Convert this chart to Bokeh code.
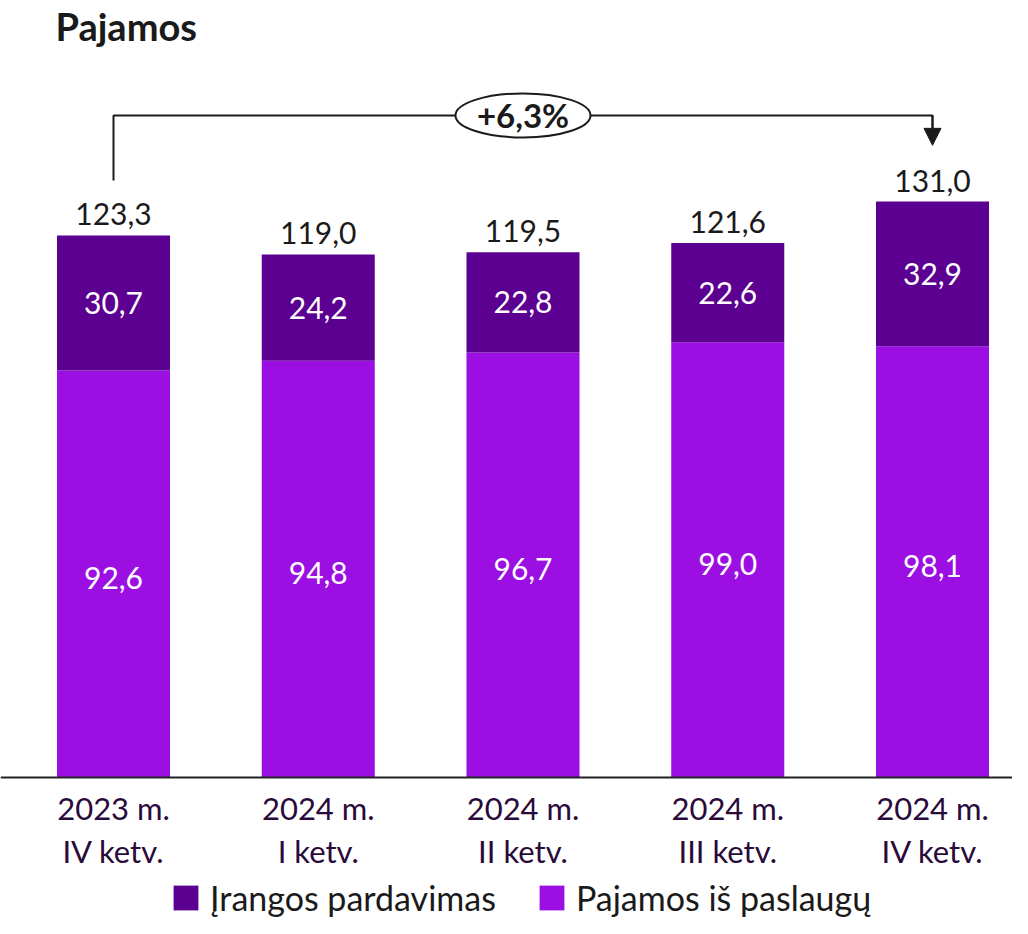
from bokeh.plotting import figure
from bokeh.models import Range1d, Span, Label, Legend, LegendItem, Arrow, NormalHead, ColumnDataSource
from bokeh.embed import file_html
from bokeh.resources import INLINE
from bokeh.core.properties import value

# ---- data ----
categories_line1 = ["2023 m.", "2024 m.", "2024 m.", "2024 m.", "2024 m."]
categories_line2 = ["IV ketv.", "I ketv.", "II ketv.", "III ketv.", "IV ketv."]
services = [92.6, 94.8, 96.7, 99.0, 98.1]        # Pajamos iš paslaugų
equipment = [30.7, 24.2, 22.8, 22.6, 32.9]       # Įrangos pardavimas
series_names = ["Įrangos pardavimas", "Pajamos iš paslaugų"]
title_text = "Pajamos"
growth_label = "+6,3%"

DARK = "#5B0091"
BRIGHT = "#9B0FE3"
FONT = "Lato"

def fmt(v):
    return f"{v:.1f}".replace(".", ",")

xs = list(range(len(services)))
totals = [round(s + e, 1) for s, e in zip(services, equipment)]

src = ColumnDataSource(dict(
    x=xs, services=services, equipment=equipment, totals=totals,
    svc_mid=[s / 2 for s in services],
    eq_mid=[s + e / 2 for s, e in zip(services, equipment)],
    svc_lbl=[fmt(v) for v in services], eq_lbl=[fmt(v) for v in equipment],
    tot_lbl=[fmt(v) for v in totals],
    l1=categories_line1, l2=categories_line2,
))

p = figure(width=1012, height=918, output_backend="svg", toolbar_location=None,
           x_range=Range1d(-0.5519, 4.3907), y_range=Range1d(-32.07, 176.75),
           min_border=0, min_border_left=0, min_border_right=0, min_border_top=0, min_border_bottom=0)
p.axis.visible = False
p.grid.visible = False
p.outline_line_color = None
p.background_fill_color = "white"

bw = 0.552
r_svc = p.vbar(x="x", bottom=0, top="services", width=bw, source=src, fill_color=BRIGHT, line_color=None)
r_eq = p.vbar(x="x", bottom="services", top="totals", width=bw, source=src, fill_color=DARK, line_color=None)

# baseline axis
p.add_layout(Span(location=0, dimension="width", line_color="#222222", line_width=2))

# labels in bars
p.text(x="x", y="svc_mid", text="svc_lbl", source=src, text_color="white", text_font=value(FONT),
       text_font_size="30px", text_align="center", text_baseline="middle", y_offset=4)
p.text(x="x", y="eq_mid", text="eq_lbl", source=src, text_color="white", text_font=value(FONT),
       text_font_size="30px", text_align="center", text_baseline="middle")
p.text(x="x", y="totals", text="tot_lbl", source=src, text_color="#1a1a1a", text_font=value(FONT),
       text_font_size="30px", text_align="center", text_baseline="bottom", y_offset=-10)

# category labels
p.text(x="x", y=0, text="l1", source=src, text_color="#2a0a3a", text_font=value(FONT),
       text_font_size="31px", text_align="center", text_baseline="middle", y_offset=30)
p.text(x="x", y=0, text="l2", source=src, text_color="#2a0a3a", text_font=value(FONT),
       text_font_size="31px", text_align="center", text_baseline="middle", y_offset=73)

# growth bracket
first, last = xs[0], xs[-1]
top_level = max(totals) + 19.6
start_y = totals[0] + 12.5
tip_y = totals[-1] + 12.8
p.line(x=[first, first, last, last], y=[start_y, top_level, top_level, tip_y + 3],
       line_color="#1a1a1a", line_width=2)
p.add_layout(Arrow(end=NormalHead(size=17, fill_color="#1a1a1a", line_color="#1a1a1a"),
                   x_start=last, y_start=top_level, x_end=last, y_end=tip_y,
                   line_color="#1a1a1a", line_width=2))
mid_x = (first + last) / 2
p.ellipse(x=[mid_x], y=[top_level], width=135, height=44, width_units="screen", height_units="screen",
          fill_color="white", line_color="#1a1a1a", line_width=2)
p.text(x=[mid_x], y=[top_level], text=[growth_label], text_color="#1a1a1a", text_font=value(FONT),
       text_font_style="bold", text_font_size="33px", text_align="center", text_baseline="middle")

# title
p.add_layout(Label(x=55, y=893, x_units="screen", y_units="screen", text=title_text,
                   text_font=FONT, text_font_style="bold", text_font_size="38px",
                   text_color="#1a1a1a", text_baseline="alphabetic"))

# legend
legend = Legend(items=[LegendItem(label=series_names[0], renderers=[r_eq]),
                       LegendItem(label=series_names[1], renderers=[r_svc])],
                orientation="horizontal", location=(170, 0), border_line_color=None,
                background_fill_alpha=0, padding=0, margin=0, spacing=40, label_standoff=9,
                glyph_width=31, glyph_height=31, label_height=32,
                label_text_font=FONT, label_text_font_size="34px", label_text_color="#1a1a1a")
p.add_layout(legend)

open("out.html", "w").write(file_html(p, INLINE))
